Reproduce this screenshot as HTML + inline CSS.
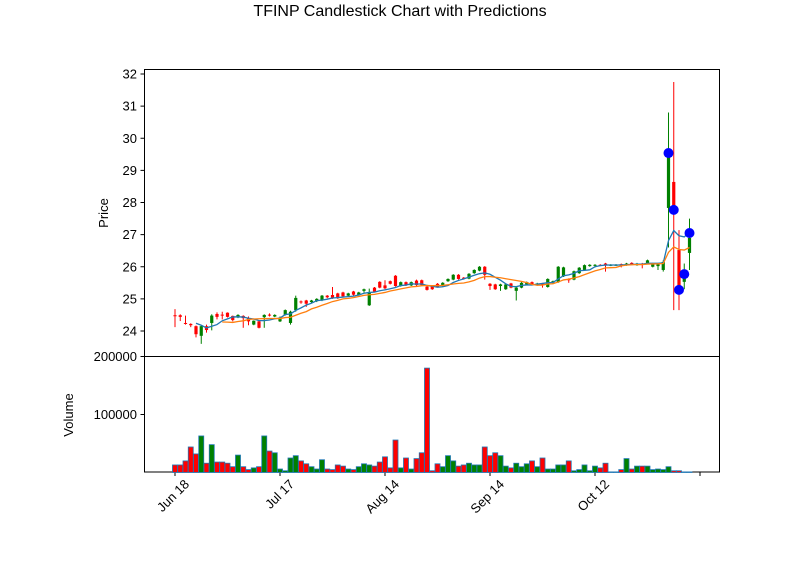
<!DOCTYPE html>
<html><head><meta charset="utf-8"><style>
body{margin:0;background:#fff}
svg{display:block;font-family:"Liberation Sans","DejaVu Sans",sans-serif}
</style></head><body>
<svg id="chart" width="800" height="575" viewBox="0 0 800 575">
<text x="400" y="16" text-anchor="middle" font-size="16">TFINP Candlestick Chart with Predictions</text>
<g id="g"></g>
</svg>
<script>
const opens=[24.49,24.49,24.25,24.22,24.15,23.85,24.15,24.25,24.53,24.51,24.57,24.47,24.42,24.47,24.4,24.2,24.3,24.43,24.51,24.45,24.3,24.5,24.25,24.65,24.92,24.95,24.9,24.93,24.95,25.1,25.12,25.17,25.2,25.1,25.23,25.12,25.25,24.8,25.35,25.53,25.42,25.55,25.72,25.4,25.52,25.42,25.57,25.58,25.38,25.4,25.47,25.4,25.55,25.6,25.75,25.66,25.63,25.8,25.88,26.0,25.47,25.45,25.4,25.3,25.48,25.25,25.35,25.45,25.52,25.43,25.48,25.37,25.5,25.52,25.7,25.62,25.6,25.8,25.9,26.02,26.04,26.06,26.1,26.04,26.05,26.08,26.05,26.12,26.05,26.1,26.1,26.0,26.02,25.9,27.83,28.64,26.52,25.53,26.43];
const closes=[24.47,24.44,24.22,24.18,23.9,24.15,24.03,24.48,24.44,24.49,24.44,24.34,24.5,24.4,24.3,24.32,24.1,24.5,24.49,24.5,24.42,24.65,24.6,25.03,24.9,24.85,24.95,25.0,25.1,25.05,25.03,25.02,25.08,25.17,25.13,25.2,25.3,25.2,25.22,25.35,25.33,25.47,25.4,25.52,25.43,25.52,25.43,25.43,25.28,25.3,25.38,25.5,25.62,25.75,25.62,25.62,25.78,25.9,26.0,25.75,25.4,25.3,25.45,25.45,25.35,25.35,25.5,25.52,25.45,25.48,25.45,25.62,25.55,26.0,25.98,25.58,25.86,25.97,26.05,26.06,26.06,26.04,26.05,26.06,26.06,26.06,26.1,26.08,26.1,26.07,26.2,26.1,26.08,26.15,29.54,27.77,25.28,25.9,26.9];
const highs=[24.68,24.52,24.48,24.24,24.17,24.18,24.2,24.52,24.58,24.6,24.58,24.48,24.52,24.49,24.45,24.33,24.31,24.52,24.55,24.52,24.45,24.67,24.63,25.1,24.95,24.97,24.97,25.02,25.12,25.12,25.37,25.19,25.22,25.19,25.25,25.22,25.32,25.32,25.37,25.55,25.58,25.57,25.74,25.54,25.54,25.54,25.6,25.6,25.4,25.42,25.49,25.52,25.64,25.77,25.77,25.68,25.8,25.92,26.02,26.02,25.49,25.47,25.47,25.47,25.5,25.37,25.52,25.54,25.54,25.5,25.5,25.64,25.57,26.02,26.0,25.64,25.88,25.99,26.07,26.08,26.08,26.08,26.12,26.08,26.08,26.1,26.12,26.14,26.12,26.12,26.22,26.12,26.1,26.2,30.8,31.75,27.14,26.1,27.5];
const lows=[24.12,24.31,24.2,24.12,23.8,23.6,23.95,24.02,24.36,24.36,24.42,24.3,24.4,24.1,24.18,24.18,24.08,24.1,24.45,24.43,24.28,24.48,24.2,24.6,24.85,24.75,24.88,24.9,24.93,25.02,25.0,25.0,25.05,25.08,25.1,25.1,25.2,24.78,25.2,25.33,25.3,25.45,25.38,25.38,25.4,25.4,25.4,25.41,25.26,25.28,25.36,25.38,25.53,25.58,25.6,25.6,25.61,25.78,25.86,25.6,25.28,25.28,25.25,25.28,25.33,24.95,25.33,25.43,25.43,25.41,25.35,25.35,25.48,25.5,25.68,25.5,25.58,25.78,25.88,26.0,25.98,26.02,25.85,26.02,26.03,25.98,26.03,26.06,26.03,25.95,26.08,25.98,25.9,25.85,26.6,24.65,24.65,25.3,25.9];
const volumes=[13,13,20,44,32,63,16,48,18,18,16,10,30,10,5,8,10,63,37,34,6,3,25,29,20,15,10,6,22,6,5,13,11,6,5,10,15,13,11,18,27,8,56,8,25,6,24,34,180,3,15,10,29,20,11,13,16,13,13,44,29,34,29,11,8,16,10,15,20,10,25,6,6,13,13,20,3,5,13,3,11,8,16,1,1,5,24,6,11,11,11,5,6,5,10,3,3,1,1];
const volColors=["r","r","r","r","r","g","r","g","r","r","r","r","g","r","r","g","r","g","r","g","g","g","g","g","r","r","g","g","g","r","r","r","r","g","r","g","g","g","r","r","r","r","r","g","r","g","r","r","r","r","r","g","g","g","r","r","g","g","g","r","r","r","g","g","r","g","g","g","r","g","r","g","g","g","g","r","g","g","g","g","g","r","r","g","g","r","g","r","g","r","g","g","g","g","g","r","r","g","g"];
const predIdx=[94,95,96,97,98];
const predVals=[29.54,27.77,25.28,25.77,27.05];
const tickIdx=[0,20,40,60,80,100];
const tickLabels=["Jun 18","Jul 17","Aug 14","Sep 14","Oct 12",""];
const priceTicks=[24,25,26,27,28,29,30,31,32];
const volTicks=[100000,200000];

const NS="http://www.w3.org/2000/svg";
const g=document.getElementById('g');
const X=i=>175+5.25*i;
const Y=p=>331-(p-24)*32.125;
const VY=v=>472.5-v/100000*58;
function mk(tag,a,parent){const e=document.createElementNS(NS,tag);for(const k in a)e.setAttribute(k,a[k]);(parent||g).appendChild(e);return e;}

let f1=mk('rect',{x:144.5,y:69.5,width:575,height:287,fill:'none',stroke:'#000','stroke-width':1});


let f2=mk('rect',{x:144.5,y:356.5,width:575,height:115.5,fill:'none',stroke:'#000','stroke-width':1});



priceTicks.forEach(p=>{
  const y=Y(p);
  const t=mk('line',{x1:140.5,x2:144.5,y1:y,y2:y,stroke:'#000'});
  
  
  const l=mk('text',{x:137,y:y+4.5,'text-anchor':'end','font-size':13});
  l.textContent=p;
  
  
});
volTicks.forEach(v=>{
  const y=VY(v);
  const t=mk('line',{x1:140.5,x2:144.5,y1:y,y2:y,stroke:'#000'});
  
  
  const l=mk('text',{x:137,y:y+4.5,'text-anchor':'end','font-size':13});
  l.textContent=v;
  
  
});
tickIdx.forEach((ix,k)=>{
  const x=X(ix);
  const t=mk('line',{x1:x,x2:x,y1:472,y2:476,stroke:'#000'});
  
  
  const ax=x+15, ay=485;
  const l=mk('text',{x:ax,y:ay,'text-anchor':'end','font-size':13,transform:`rotate(-45 ${ax} ${ay})`});
  l.textContent=tickLabels[k];
  
  
});
let yl=mk('text',{x:108,y:213,'text-anchor':'middle','font-size':13,transform:'rotate(-90 108 213)'});
yl.textContent='Price';


let vl=mk('text',{x:73,y:415,'text-anchor':'middle','font-size':13,transform:'rotate(-90 73 415)'});
vl.textContent='Volume';



volumes.forEach((v,i)=>{
  const y=VY(v*1000);
  const b=mk('rect',{x:X(i)-2.5,y:y,width:5,height:472.5-y,fill:volColors[i]==='g'?'#008000':'#ff0000',stroke:'#1f77b4','stroke-width':0.8});
  
  
});

opens.forEach((o,i)=>{
  const c=closes[i],up=c>=o,col=up?'#008000':'#ff0000',x=X(i);
  const w=mk('line',{x1:x,x2:x,y1:Y(highs[i]),y2:Y(lows[i]),stroke:col,'stroke-width':1});
  
  
  const t=Math.min(Y(o),Y(c)),h=Math.max(1,Math.abs(Y(o)-Y(c)));
  const b=mk('rect',{x:x-1.6,y:t,width:3.2,height:h,fill:col});
  
  
});

function ma(n,color,name){
  let pts=[];
  for(let i=n-1;i<closes.length;i++){let s=0;for(let j=i-n+1;j<=i;j++)s+=closes[j];pts.push(X(i)+','+Y(s/n));}
  const p=mk('polyline',{points:pts.join(' '),fill:'none',stroke:color,'stroke-width':1.3});
  
  
}
ma(5,'#1f77b4','ma5-line');
ma(10,'#ff7f0e','ma10-line');

predIdx.forEach((ix,k)=>{
  const d=mk('circle',{cx:X(ix),cy:Y(predVals[k]),r:5,fill:'#0000ff'});
  
  
});
</script>
</body></html>
